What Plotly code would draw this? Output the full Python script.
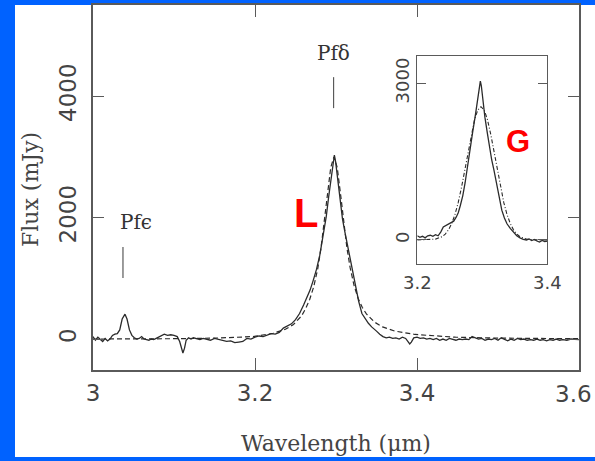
import plotly.graph_objects as go

# ---------------- data ----------------
main_wl = [3.000, 3.003, 3.006, 3.009, 3.012, 3.015, 3.018, 3.021, 3.024, 3.027, 3.030,
           3.033, 3.036, 3.0395, 3.042, 3.045, 3.048, 3.051, 3.054, 3.057, 3.060, 3.063,
           3.066, 3.069, 3.072, 3.075, 3.078, 3.081, 3.084, 3.088, 3.092, 3.096, 3.100,
           3.104, 3.107, 3.109, 3.111, 3.113, 3.115, 3.118, 3.121, 3.124, 3.128, 3.132,
           3.136, 3.140, 3.145, 3.150, 3.155, 3.160, 3.165, 3.170, 3.175, 3.180, 3.185,
           3.190, 3.195, 3.200, 3.205, 3.210, 3.215, 3.220, 3.225, 3.230, 3.235, 3.240,
           3.245, 3.250, 3.255, 3.260, 3.264, 3.268, 3.272, 3.276, 3.280, 3.284, 3.288,
           3.291, 3.294, 3.2965, 3.298, 3.2995, 3.302, 3.305, 3.308, 3.311, 3.314, 3.317,
           3.319, 3.322, 3.325, 3.328, 3.332, 3.336, 3.340, 3.344, 3.348, 3.350, 3.354,
           3.358, 3.362, 3.366, 3.370, 3.374, 3.378, 3.382, 3.386, 3.389, 3.391, 3.393,
           3.396, 3.400, 3.404, 3.408, 3.412, 3.416, 3.420, 3.424, 3.428, 3.432, 3.436,
           3.440, 3.444, 3.448, 3.452, 3.456, 3.460, 3.464, 3.468, 3.472, 3.476, 3.480,
           3.484, 3.488, 3.492, 3.496, 3.500, 3.504, 3.508, 3.512, 3.516, 3.520, 3.524,
           3.528, 3.532, 3.536, 3.540, 3.544, 3.548, 3.552, 3.556, 3.560, 3.564, 3.568,
           3.572, 3.576, 3.580, 3.585, 3.590, 3.595, 3.600]
main_flux = [40, -20, 30, -10, -40, 10, -30, 0, 60, 80, 90,
             150, 330, 410, 330, 150, 60, 20, 0, 10, 40, 0,
             -10, -20, 0, -10, 10, 30, 60, 80, 60, 70, 60,
             40, -40, -150, -230, -150, -20, 20, 0, 20, 10, -10,
             10, 0, -20, 10, -10, -20, -40, -30, -60, -50, -40,
             10, 0, 30, 50, 40, 70, 90, 80, 110, 180, 220,
             250, 320, 420, 560, 680, 806, 970, 1150, 1380, 1700, 2020,
             2350, 2650, 2900, 3030, 2920, 2650, 2300, 1980, 1760, 1560, 1320,
             1220, 1000, 790, 620, 420, 330, 260, 200, 160, 130, 80,
             40, 20, 30, 10, 20, 0, 30, 10, -40, -80, -50,
             20, 30, 10, 20, 0, 10, -10, 10, -20, 0, -20,
             10, -10, -20, 0, -10, 0, -10, 40, 20, 0, 10,
             -20, 0, -10, 10, -20, 20, 0, -30, 0, -20, 10,
             -10, 0, -20, -10, -20, 0, -20, -10, -30, -10, -20,
             0, -20, -10, -20, 0, -10, -10]

# Lorentzian fit (dashed)
lor_wl = [3.000, 3.050, 3.100, 3.150, 3.1975, 3.2225, 3.2375, 3.2475, 3.2575, 3.2625,
          3.2675, 3.2725, 3.2775, 3.2815, 3.2855, 3.2895, 3.2935, 3.2975, 3.3015, 3.3055,
          3.3095, 3.3135, 3.3175, 3.3225, 3.3275, 3.3325, 3.3375, 3.3475, 3.3575, 3.3725,
          3.3975, 3.4475, 3.500, 3.550, 3.600]
lor_flux = [0, 0, 5, 15, 40, 95, 160, 240, 380, 500,
            650, 860, 1160, 1500, 1920, 2400, 2824, 3000, 2824, 2400,
            1920, 1500, 1171, 872, 664, 519, 414, 279, 199, 131,
            75, 30, 15, 8, 5]

# Inset: data (solid) and Gaussian fit (dash-dot)
inset_wl = [3.200, 3.204, 3.208, 3.212, 3.216, 3.220, 3.224, 3.228, 3.232, 3.236,
            3.240, 3.244, 3.248, 3.252, 3.256, 3.260, 3.263, 3.266, 3.270, 3.2735,
            3.277, 3.281, 3.285, 3.289, 3.2915, 3.294, 3.297, 3.2985, 3.3005, 3.304,
            3.3077, 3.311, 3.3145, 3.318, 3.322, 3.326, 3.330, 3.334, 3.338, 3.343,
            3.348, 3.353, 3.358, 3.363, 3.368, 3.372, 3.376, 3.380, 3.384, 3.388,
            3.392, 3.396, 3.400]
inset_flux = [80, 50, 70, 40, 80, 90, 70, 100, 80, 150,
              250, 280, 300, 330, 360, 440, 520, 650, 850, 1090,
              1400, 1720, 2050, 2360, 2580, 2810, 3040, 2950, 2680, 2350,
              2050, 1780, 1530, 1330, 1090, 820, 570, 420, 310, 220,
              140, 80, 40, 10, 0, 20, -10, 10, -20, -40,
              -10, -30, -20]

gau_wl = [3.200, 3.218, 3.228, 3.238, 3.243, 3.248, 3.253, 3.258, 3.263, 3.268,
          3.273, 3.278, 3.283, 3.288, 3.293, 3.298, 3.303, 3.308, 3.313, 3.318,
          3.323, 3.328, 3.333, 3.338, 3.343, 3.348, 3.353, 3.358, 3.368, 3.378, 3.400]
gau_flux = [0, 3, 16, 62, 112, 193, 315, 488, 719, 1006,
            1337, 1687, 2021, 2300, 2485, 2550, 2485, 2300, 2021, 1687,
            1337, 1006, 719, 488, 315, 193, 112, 62, 16, 3, 0]

main_xticks = [3.0, 3.2, 3.4, 3.6]
main_xticktext = ["3", "3.2", "3.4", "3.6"]
main_yticks = [0, 2000, 4000]
inset_xticks = [3.2, 3.4]
inset_yticks = [0, 3000]

line_ids = ["Pf\u03f5", "Pf\u03b4"]
line_wl = [3.037, 3.297]

# ---------------- figure ----------------
W, H = 595, 461
ml, mr, mt, mb = 93, 16, 5, 91
pw, ph = W - ml - mr, H - mt - mb

def px_x(px):
    return (px - ml) / pw

def px_y(py):
    return (H - mb - py) / ph

fig = go.Figure()
ink = "#2b2b2b"
fig.add_trace(go.Scatter(x=lor_wl, y=lor_flux, mode="lines",
                         line=dict(color=ink, width=1.2, dash="5px,3px"),
                         xaxis="x", yaxis="y", hoverinfo="skip"))
fig.add_trace(go.Scatter(x=main_wl, y=main_flux, mode="lines",
                         line=dict(color=ink, width=1.3),
                         xaxis="x", yaxis="y"))
fig.add_trace(go.Scatter(x=gau_wl, y=gau_flux, mode="lines",
                         line=dict(color=ink, width=1.1, dash="4px,2px,1px,2px"),
                         xaxis="x2", yaxis="y2", hoverinfo="skip"))
fig.add_trace(go.Scatter(x=inset_wl, y=inset_flux, mode="lines",
                         line=dict(color=ink, width=1.3),
                         xaxis="x2", yaxis="y2"))

axcol = "#5a5a5a"
tickfont = dict(family="DejaVu Sans", size=23, color="#444444")
tickfont_small = dict(family="DejaVu Sans", size=18, color="#444444")

# the last x label sits at the page edge; it is drawn right-aligned to stay inside
axis_xticktext = main_xticktext[:-1] + [""]

fig.update_layout(
    width=W, height=H,
    margin=dict(l=ml, r=mr, t=mt, b=mb, autoexpand=False),
    paper_bgcolor="white",
    plot_bgcolor="white",
    showlegend=False,
    xaxis=dict(domain=[0, 1], range=[3.0, 3.6], tickvals=main_xticks, ticktext=axis_xticktext,
               ticks="inside", ticklen=12, tickwidth=1.3, tickcolor=axcol,
               showline=True, linecolor=axcol, linewidth=1.5, mirror="allticks",
               showgrid=False, zeroline=False, tickfont=tickfont, ticklabelstandoff=2,
               automargin=False),
    yaxis=dict(domain=[0, 1], range=[-510, 5500], tickvals=main_yticks,
               ticks="inside", ticklen=11, tickwidth=1.3, tickcolor=axcol,
               showline=True, linecolor=axcol, linewidth=1.5, mirror="allticks",
               showgrid=False, zeroline=False, tickfont=tickfont, tickangle=-90,
               ticklabelstandoff=6, automargin=False),
    xaxis2=dict(domain=[px_x(417.3), px_x(547.3)], anchor="y2", range=[3.2, 3.4],
                tickvals=inset_xticks, ticks="", showline=True, linecolor=axcol,
                linewidth=1.3, mirror=True, showgrid=False, zeroline=False,
                tickfont=tickfont_small, ticklabelstandoff=2, automargin=False,
                ticklabeloverflow="allow"),
    yaxis2=dict(domain=[px_y(264), px_y(56)], anchor="x2", range=[-460, 3520],
                tickvals=inset_yticks, ticks="inside", ticklen=9, tickwidth=1.2,
                tickcolor=axcol, showline=True, linecolor=axcol, linewidth=1.3,
                mirror="allticks", showgrid=False, zeroline=False,
                tickfont=tickfont_small, tickangle=-90, ticklabelstandoff=0,
                automargin=False, ticklabeloverflow="allow"),
)

# blue slide border (left, top, bottom), kept inside the figure
blue = "#0062FF"
for (ax0, ax1, ay0, ay1) in [(0, 15, 0, H), (0, W, 0, 5), (0, W, 457, H)]:
    fig.add_shape(type="rect", xref="paper", yref="paper", layer="below",
                  x0=px_x(ax0), x1=px_x(ax1), y0=px_y(ay1), y1=px_y(ay0),
                  fillcolor=blue, line=dict(width=0))

# last x tick label, right-aligned at the page edge
fig.add_annotation(x=px_x(W - 1), y=px_y(394), xref="paper", yref="paper",
                   text=main_xticktext[-1], showarrow=False,
                   xanchor="right", yanchor="middle", font=tickfont)

serif = "DejaVu Serif"
# line identification ticks and labels
fig.add_shape(type="line", xref="x", yref="y", x0=line_wl[0], x1=line_wl[0],
              y0=1004, y1=1514, line=dict(color=axcol, width=1.2))
fig.add_shape(type="line", xref="x", yref="y", x0=line_wl[1], x1=line_wl[1],
              y0=3802, y1=4312, line=dict(color=axcol, width=1.2))
fig.add_annotation(x=line_wl[0] + 0.016, y=1926, xref="x", yref="y", text=line_ids[0],
                   showarrow=False, xanchor="center", yanchor="middle",
                   font=dict(family=serif, size=20, color="#333333"))
fig.add_annotation(x=line_wl[1], y=4708, xref="x", yref="y", text=line_ids[1],
                   showarrow=False, xanchor="center", yanchor="middle",
                   font=dict(family=serif, size=20, color="#333333"))

# L / G labels
fig.add_annotation(x=3.263, y=2074, xref="x", yref="y", text="<b>L</b>", showarrow=False,
                   xanchor="center", yanchor="middle",
                   font=dict(family="Liberation Sans", size=40, color="#FF0000"))
fig.add_annotation(x=3.525, y=3251, xref="x", yref="y", text="<b>G</b>", showarrow=False,
                   xanchor="center", yanchor="middle",
                   font=dict(family="Liberation Sans", size=31, color="#FF0000"))

# axis titles
fig.add_annotation(x=0.5, y=px_y(443), xref="paper", yref="paper",
                   text="Wavelength (\u03bcm)", showarrow=False,
                   xanchor="center", yanchor="middle",
                   font=dict(family=serif, size=22, color="#444444"))
fig.add_annotation(x=px_x(30), y=px_y(190), xref="paper", yref="paper",
                   text="Flux (mJy)", showarrow=False, textangle=-90,
                   xanchor="center", yanchor="middle",
                   font=dict(family=serif, size=22, color="#444444"))

fig.write_html("out.html")
